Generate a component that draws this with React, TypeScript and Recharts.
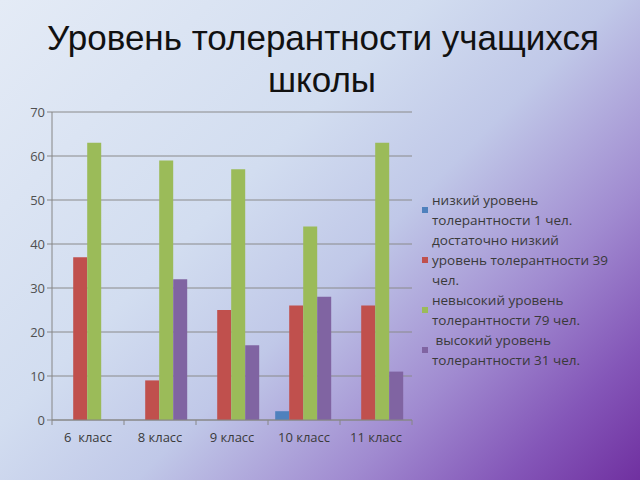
import React from "react";
import { BarChart, Bar, XAxis, YAxis, CartesianGrid, Legend } from "recharts";

const categories = ["6  класс", "8 класс", "9 класс", "10 класс", "11 класс"];
const lowValues = [0, 0, 0, 2, 0];
const fairlyLowValues = [37, 9, 25, 26, 26];
const notHighValues = [63, 59, 57, 44, 63];
const highValues = [0, 32, 17, 28, 11];
const yTicks = [0, 10, 20, 30, 40, 50, 60, 70];

const seriesNames = [
  "низкий уровень\nтолерантности 1 чел.",
  "достаточно низкий\nуровень толерантности 39\nчел.",
  "невысокий уровень\nтолерантности 79 чел.",
  " высокий уровень\nтолерантности 31 чел.",
];
const seriesKeys = ["low", "fairlyLow", "notHigh", "high"];
const seriesColors = ["#4F81BD", "#C0504D", "#9BBB59", "#8064A2"];
const title = ["Уровень толерантности учащихся", "школы"];

const data = categories.map((c, i) => ({
  name: c,
  low: lowValues[i],
  fairlyLow: fairlyLowValues[i],
  notHigh: notHighValues[i],
  high: highValues[i],
}));

const font = "'Open Sans', 'Noto Sans', sans-serif";

const XTick = (props: any) => {
  const { x, y, payload, index } = props;
  const half = 36;
  return (
    <g>
      <line x1={x - half} y1={y - 8} x2={x - half} y2={y - 3} stroke="#868686" />
      {index === categories.length - 1 && (
        <line x1={x + half} y1={y - 8} x2={x + half} y2={y - 3} stroke="#868686" />
      )}
      <text x={x} y={y + 14} textAnchor="middle" fill="#3a3a3a" fontSize={13} fontFamily={font} style={{ whiteSpace: "pre" }}>
        {payload.value}
      </text>
    </g>
  );
};

const LegendContent = () => {
  return (
    <div style={{ fontFamily: font, fontSize: 13.5, color: "#3a3a3a", lineHeight: "20px" }}>
      {seriesNames.map((n, i) => (
        <div key={i} style={{ display: "flex", alignItems: "center" }}>
          <div style={{ width: 6, height: 6, background: seriesColors[i], marginRight: 4, flexShrink: 0 }} />
          <div style={{ whiteSpace: "pre" }}>{n}</div>
        </div>
      ))}
    </div>
  );
};

export default function App() {
  return (
    <div
      style={{
        position: "fixed",
        left: 0,
        top: 0,
        width: 640,
        height: 480,
        overflow: "hidden",
        background:
          "linear-gradient(135deg, #e4ebf6 0%, #d2ddf0 38%, #c0c8e8 55%, #a08ad0 74%, #8456b8 88%, #7030a0 100%)",
      }}
    >
      <div
        style={{
          position: "absolute",
          left: 0,
          top: 17,
          width: 640,
          textAlign: "center",
          fontFamily: "'Liberation Sans', Arial, sans-serif",
          fontSize: 35,
          lineHeight: "42px",
          color: "#111",
        }}
      >
        <div style={{ marginLeft: 6 }}>{title[0]}</div>
        <div style={{ marginLeft: 4 }}>{title[1]}</div>
      </div>
      <div style={{ position: "absolute", left: 0, top: 0 }}>
        <BarChart
          width={640}
          height={480}
          data={data}
          margin={{ top: 112, right: 228, bottom: 30, left: 0 }}
          barCategoryGap="10%"
          barGap={0}
        >
          <CartesianGrid vertical={false} stroke="#8a8a8a" />
          <XAxis
            dataKey="name"
            height={30}
            stroke="#868686"
            tickLine={false}
            tick={<XTick />}
            interval={0}
          />
          <YAxis
            width={52}
            domain={[0, 70]}
            ticks={yTicks}
            stroke="#868686"
            tickSize={5}
            tick={{ fill: "#505050", fontSize: 13, fontFamily: font }}
            interval={0}
          />
          <Legend
            layout="vertical"
            verticalAlign="middle"
            align="center"
            content={<LegendContent />}
            wrapperStyle={{ position: "absolute", left: 422, top: 190, width: 215 }}
          />
          {seriesKeys.map((k, i) => (
            <Bar key={k} dataKey={k} name={seriesNames[i]} fill={seriesColors[i]} isAnimationActive={false} />
          ))}
        </BarChart>
      </div>
    </div>
  );
}
